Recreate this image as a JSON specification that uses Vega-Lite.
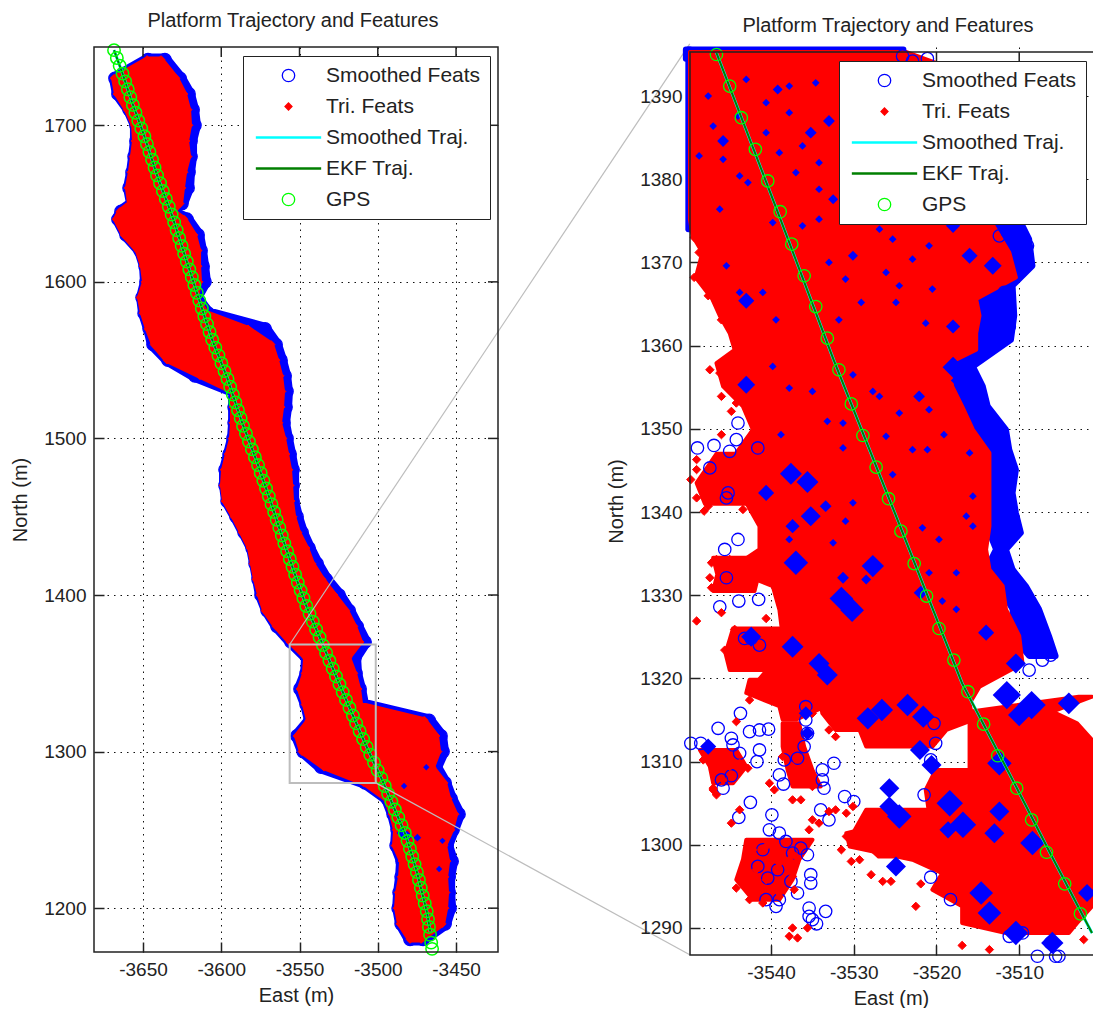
{"$schema":"https://vega.github.io/schema/vega-lite/v6.json","padding":{"left":10,"top":10,"right":0,"bottom":0},"background":"white","bounds":"flush","spacing":192,
"resolve":{"scale":{"shape":"independent","stroke":"independent","fill":"independent","size":"independent"},"legend":{"shape":"independent","stroke":"independent","fill":"independent"}},
"config":{"view":{"stroke":null},"font":"Liberation Sans","axis":{"labelFont":"Liberation Sans","titleFont":"Liberation Sans","labelFontSize":19,"titleFontSize":20,"titleFontWeight":"normal","labelColor":"#222","titleColor":"#222","domain":false,"tickColor":"#222","tickSize":-10,"tickWidth":1.5,"gridColor":"#111","gridDash":[1.5,5],"gridOpacity":1,"gridWidth":1,"labelPadding":18},"title":{"font":"Liberation Sans","fontSize":20,"fontWeight":"normal","color":"#222","anchor":"middle","dx":-3}},
"datasets":{
"edges":[{"y":1742,"rl":-3647.4,"rr":-3638.5,"bl":-3646.8,"br":-3636},{"y":1730,"rl":-3668.5,"rr":-3628.9,"bl":-3667.9,"br":-3626.3},{"y":1720,"rl":-3666.6,"rr":-3623.8,"bl":-3666,"br":-3620.6},{"y":1710,"rl":-3660.2,"rr":-3621.2,"bl":-3658.9,"br":-3618},{"y":1700,"rl":-3655.7,"rr":-3620.6,"bl":-3654.5,"br":-3616.8},{"y":1690,"rl":-3655.1,"rr":-3622.5,"bl":-3654.5,"br":-3619.3},{"y":1680,"rl":-3656.4,"rr":-3621.2,"bl":-3655.7,"br":-3619.3},{"y":1670,"rl":-3657.7,"rr":-3623.8,"bl":-3657,"br":-3620.6},{"y":1660,"rl":-3659.6,"rr":-3625.1,"bl":-3658.9,"br":-3621.2},{"y":1650,"rl":-3658.3,"rr":-3626.3,"bl":-3657,"br":-3625.1},{"y":1645,"rl":-3664.7,"rr":-3630.8,"bl":-3664,"br":-3632.1},{"y":1640,"rl":-3667.2,"rr":-3623.8,"bl":-3666,"br":-3621.9},{"y":1630,"rl":-3662.1,"rr":-3617.4,"bl":-3660.8,"br":-3614.8},{"y":1620,"rl":-3653.2,"rr":-3614.8,"bl":-3651.9,"br":-3612.9},{"y":1610,"rl":-3650,"rr":-3614.8,"bl":-3648.7,"br":-3611.6},{"y":1600,"rl":-3648.7,"rr":-3614.2,"bl":-3648.1,"br":-3610.4},{"y":1590,"rl":-3651.9,"rr":-3616.1,"bl":-3650.6,"br":-3616.1},{"y":1580,"rl":-3650,"rr":-3609.7,"bl":-3649.3,"br":-3608.4},{"y":1570,"rl":-3646.8,"rr":-3582.9,"bl":-3646.1,"br":-3572},{"y":1560,"rl":-3643,"rr":-3568.2,"bl":-3643.6,"br":-3565},{"y":1550,"rl":-3634.6,"rr":-3565,"bl":-3634,"br":-3561.8},{"y":1540,"rl":-3613.6,"rr":-3562.4,"bl":-3616.8,"br":-3559.2},{"y":1530,"rl":-3592.5,"rr":-3561.2,"bl":-3591.8,"br":-3558},{"y":1520,"rl":-3592.5,"rr":-3561.8,"bl":-3591.8,"br":-3558.6},{"y":1510,"rl":-3592.5,"rr":-3563.1,"bl":-3591.8,"br":-3559.9},{"y":1500,"rl":-3593.1,"rr":-3560.5,"bl":-3592.5,"br":-3558},{"y":1490,"rl":-3595.7,"rr":-3558.6,"bl":-3595,"br":-3556},{"y":1480,"rl":-3598.2,"rr":-3556.7,"bl":-3597.6,"br":-3554.1},{"y":1470,"rl":-3598.9,"rr":-3556,"bl":-3597.6,"br":-3554.1},{"y":1460,"rl":-3597.6,"rr":-3555.4,"bl":-3596.3,"br":-3554.1},{"y":1450,"rl":-3591.8,"rr":-3554.1,"bl":-3590.6,"br":-3551.6},{"y":1440,"rl":-3586.7,"rr":-3551,"bl":-3585.4,"br":-3548.4},{"y":1430,"rl":-3581.6,"rr":-3545.8,"bl":-3580.3,"br":-3543.9},{"y":1420,"rl":-3579.7,"rr":-3542,"bl":-3578.4,"br":-3538.8},{"y":1410,"rl":-3577.8,"rr":-3535.6,"bl":-3576.5,"br":-3533},{"y":1400,"rl":-3575.2,"rr":-3527.9,"bl":-3574.6,"br":-3524.7},{"y":1390,"rl":-3572,"rr":-3520.3,"bl":-3570.7,"br":-3518.3},{"y":1380,"rl":-3565,"rr":-3515.2,"bl":-3564.4,"br":-3513.2},{"y":1370,"rl":-3556,"rr":-3511.3,"bl":-3555.4,"br":-3508.1},{"y":1360,"rl":-3545.8,"rr":-3519,"bl":-3545.2,"br":-3514.5},{"y":1350,"rl":-3546.5,"rr":-3515.2,"bl":-3545.8,"br":-3513.9},{"y":1340,"rl":-3549.7,"rr":-3512.6,"bl":-3549.7,"br":-3511.3},{"y":1330,"rl":-3546.5,"rr":-3511.3,"bl":-3545.8,"br":-3509.4},{"y":1320,"rl":-3543.9,"rr":-3470.4,"bl":-3543.3,"br":-3467.2},{"y":1310,"rl":-3551.6,"rr":-3462.8,"bl":-3551.6,"br":-3459.6},{"y":1300,"rl":-3548.4,"rr":-3461.5,"bl":-3547.7,"br":-3458.3},{"y":1290,"rl":-3534.3,"rr":-3465.3,"bl":-3536.2,"br":-3462.8},{"y":1280,"rl":-3508.8,"rr":-3457.6,"bl":-3508.1,"br":-3457},{"y":1270,"rl":-3494.7,"rr":-3455.1,"bl":-3494.1,"br":-3453.2},{"y":1260,"rl":-3490.9,"rr":-3450.6,"bl":-3490.2,"br":-3448.1},{"y":1250,"rl":-3488.3,"rr":-3453.2,"bl":-3487.7,"br":-3451.9},{"y":1240,"rl":-3489,"rr":-3457.6,"bl":-3488.3,"br":-3455.7},{"y":1230,"rl":-3484.5,"rr":-3455.7,"bl":-3484.5,"br":-3452.5},{"y":1220,"rl":-3485.1,"rr":-3457,"bl":-3485.1,"br":-3454.4},{"y":1210,"rl":-3487,"rr":-3456.4,"bl":-3486.4,"br":-3454.4},{"y":1200,"rl":-3487.7,"rr":-3457,"bl":-3487,"br":-3453.8},{"y":1190,"rl":-3485.8,"rr":-3458.9,"bl":-3485.1,"br":-3457},{"y":1180,"rl":-3479.4,"rr":-3472.3,"bl":-3479.4,"br":-3471.1}],
"trackL":[{"x":-3668.5,"y":1748},{"x":-3663.4,"y":1734},{"x":-3657,"y":1714.7},{"x":-3649.3,"y":1693.6},{"x":-3641,"y":1668},{"x":-3631.5,"y":1642.5},{"x":-3622.5,"y":1614.4},{"x":-3614.2,"y":1588.8},{"x":-3605.9,"y":1563.2},{"x":-3596.3,"y":1539},{"x":-3586.7,"y":1510.2},{"x":-3577.1,"y":1484.7},{"x":-3568.2,"y":1459},{"x":-3559.9,"y":1433.5},{"x":-3552.2,"y":1411},{"x":-3545.8,"y":1393.3},{"x":-3533,"y":1363.2},{"x":-3520.3,"y":1333.2},{"x":-3507.5,"y":1303.8},{"x":-3497.3,"y":1282.1},{"x":-3488.3,"y":1261},{"x":-3482,"y":1246.3},{"x":-3474.9,"y":1222.7},{"x":-3468.5,"y":1197.1},{"x":-3466.5,"y":1185}],
"gpsL":[{"y":1748,"x":-3668.5},{"y":1743,"x":-3666.7},{"y":1738,"x":-3664.9},{"y":1733,"x":-3663.1},{"y":1728,"x":-3661.4},{"y":1723,"x":-3659.7},{"y":1718,"x":-3658.1},{"y":1713,"x":-3656.5},{"y":1708,"x":-3654.8},{"y":1703,"x":-3653},{"y":1698,"x":-3651.1},{"y":1693,"x":-3649.1},{"y":1688,"x":-3647.5},{"y":1683,"x":-3645.9},{"y":1678,"x":-3644.2},{"y":1673,"x":-3642.6},{"y":1668,"x":-3641},{"y":1663,"x":-3639.1},{"y":1658,"x":-3637.3},{"y":1653,"x":-3635.4},{"y":1648,"x":-3633.5},{"y":1643,"x":-3631.7},{"y":1638,"x":-3630.1},{"y":1633,"x":-3628.5},{"y":1628,"x":-3626.9},{"y":1623,"x":-3625.3},{"y":1618,"x":-3623.7},{"y":1613,"x":-3622},{"y":1608,"x":-3620.4},{"y":1603,"x":-3618.8},{"y":1598,"x":-3617.2},{"y":1593,"x":-3615.6},{"y":1588,"x":-3614},{"y":1583,"x":-3612.4},{"y":1578,"x":-3610.8},{"y":1573,"x":-3609.1},{"y":1568,"x":-3607.5},{"y":1563,"x":-3605.8},{"y":1558,"x":-3603.8},{"y":1553,"x":-3601.8},{"y":1548,"x":-3599.9},{"y":1543,"x":-3597.9},{"y":1538,"x":-3596},{"y":1533,"x":-3594.3},{"y":1528,"x":-3592.6},{"y":1523,"x":-3591},{"y":1518,"x":-3589.3},{"y":1513,"x":-3587.6},{"y":1508,"x":-3586.1},{"y":1503,"x":-3584.2},{"y":1498,"x":-3582.3},{"y":1493,"x":-3580.4},{"y":1488,"x":-3578.5},{"y":1483,"x":-3576.5},{"y":1478,"x":-3574.8},{"y":1473,"x":-3573.1},{"y":1468,"x":-3571.4},{"y":1463,"x":-3569.6},{"y":1458,"x":-3567.9},{"y":1453,"x":-3566.2},{"y":1448,"x":-3564.6},{"y":1443,"x":-3562.9},{"y":1438,"x":-3561.3},{"y":1433,"x":-3559.7},{"y":1428,"x":-3557.9},{"y":1423,"x":-3556.2},{"y":1418,"x":-3554.5},{"y":1413,"x":-3552.8},{"y":1408,"x":-3551.1},{"y":1403,"x":-3549.3},{"y":1398,"x":-3547.5},{"y":1393,"x":-3545.7},{"y":1388,"x":-3543.6},{"y":1383,"x":-3541.5},{"y":1378,"x":-3539.4},{"y":1373,"x":-3537.2},{"y":1368,"x":-3535.1},{"y":1363,"x":-3533},{"y":1358,"x":-3530.9},{"y":1353,"x":-3528.8},{"y":1348,"x":-3526.7},{"y":1343,"x":-3524.5},{"y":1338,"x":-3522.4},{"y":1333,"x":-3520.3},{"y":1328,"x":-3518.1},{"y":1323,"x":-3515.9},{"y":1318,"x":-3513.8},{"y":1313,"x":-3511.6},{"y":1308,"x":-3509.4},{"y":1303,"x":-3507.1},{"y":1298,"x":-3504.8},{"y":1293,"x":-3502.4},{"y":1288,"x":-3500.1},{"y":1283,"x":-3497.7},{"y":1278,"x":-3495.5},{"y":1273,"x":-3493.4},{"y":1268,"x":-3491.3},{"y":1263,"x":-3489.1},{"y":1258,"x":-3486.9},{"y":1253,"x":-3484.8},{"y":1248,"x":-3482.7},{"y":1243,"x":-3481},{"y":1238,"x":-3479.5},{"y":1233,"x":-3478},{"y":1228,"x":-3476.5},{"y":1223,"x":-3475},{"y":1218,"x":-3473.7},{"y":1213,"x":-3472.5},{"y":1208,"x":-3471.3},{"y":1203,"x":-3470},{"y":1198,"x":-3468.7},{"y":1193,"x":-3467.9},{"y":1188,"x":-3467.3},{"y":1183,"x":-3466.6},{"y":1178,"x":-3465.9},{"y":1174,"x":-3465.3}],
"specksL":[{"x":-3474.7,"y":1245,"n":3},{"x":-3458.7,"y":1243,"n":2},{"x":-3460.8,"y":1225,"n":2},{"x":-3483.2,"y":1278,"n":2},{"x":-3484.5,"y":1248,"n":6},{"x":-3481.3,"y":1246,"n":6},{"x":-3469,"y":1290,"n":2}],
"frameL":[{"a":-3681.3,"b":-3423.2,"c":1172,"d":1750}],
"zoomL":[{"a":-3556.3,"b":-3501.3,"c":1280,"d":1368.4}],
"linksL":[{"a":-3556.3,"c":1368.4,"b":-3300.7,"d":1752},{"a":-3501.3,"c":1280,"b":-3300.7,"d":1170.3}],
"ticksTL":[{"x":-3650},{"x":-3600},{"x":-3550},{"x":-3500},{"x":-3450}],
"ticksRL":[{"y":1200},{"y":1300},{"y":1400},{"y":1500},{"y":1600},{"y":1700}],
"redR":[{"p":"a","y":1395.3,"a":-3549.8,"b":-3523.7},{"p":"a","y":1393.6,"a":-3549.8,"b":-3519},{"p":"a","y":1375.2,"a":-3549.8,"b":-3513.6},{"p":"a","y":1373.2,"a":-3549.5,"b":-3512.4},{"p":"a","y":1371.2,"a":-3548.3,"b":-3511.2},{"p":"a","y":1368.2,"a":-3549.1,"b":-3510.4},{"p":"a","y":1365.6,"a":-3547.1,"b":-3515.2},{"p":"a","y":1363.6,"a":-3546.2,"b":-3514.8},{"p":"a","y":1361.5,"a":-3545,"b":-3515.2},{"p":"a","y":1359.5,"a":-3544.4,"b":-3515.2},{"p":"a","y":1357.9,"a":-3546.6,"b":-3518.5},{"p":"a","y":1355.1,"a":-3545.8,"b":-3518.1},{"p":"a","y":1352.7,"a":-3543.4,"b":-3516.9},{"p":"a","y":1349.9,"a":-3542.2,"b":-3515.6},{"p":"a","y":1347.1,"a":-3544.2,"b":-3513.6},{"p":"a","y":1343.9,"a":-3541.8,"b":-3513.6},{"p":"a","y":1341.1,"a":-3543,"b":-3513.6},{"p":"a","y":1338.3,"a":-3541.4,"b":-3513.6},{"p":"a","y":1335.5,"a":-3541.4,"b":-3514},{"p":"a","y":1333.1,"a":-3545,"b":-3513.6},{"p":"a","y":1331.1,"a":-3539.8,"b":-3512},{"p":"a","y":1328.3,"a":-3539,"b":-3511.6},{"p":"a","y":1325.1,"a":-3538.6,"b":-3510},{"p":"a","y":1321.8,"a":-3539.8,"b":-3509.6},{"p":"a","y":1319,"a":-3542.2,"b":-3514.8},{"p":"a","y":1317,"a":-3532.5,"b":-3516},{"p":"a","y":1315,"a":-3530.9,"b":-3515.6},{"p":"a","y":1313.8,"a":-3529.3,"b":-3518.8},{"p":"a","y":1311.8,"a":-3528.5,"b":-3520.5},{"p":"c","y":1309,"a":-3520.1,"b":-3510.8},{"p":"c","y":1306.6,"a":-3521.3,"b":-3510.4},{"p":"c","y":1303.8,"a":-3520.9,"b":-3509.2},{"p":"c","y":1301.4,"a":-3530.9,"b":-3507.2},{"p":"c","y":1299.8,"a":-3530.5,"b":-3501.2},{"p":"c","y":1298.2,"a":-3522.9,"b":-3501.2},{"p":"c","y":1296.6,"a":-3519.3,"b":-3501.2},{"p":"c","y":1294.6,"a":-3520.5,"b":-3501.2},{"p":"c","y":1292.6,"a":-3516.9,"b":-3501.2},{"p":"c","y":1290.6,"a":-3516.9,"b":-3503},{"p":"c","y":1289.4,"a":-3511.6,"b":-3504},{"p":"d","y":1317.8,"a":-3502.8,"b":-3501.2},{"p":"d","y":1316,"a":-3516,"b":-3506},{"p":"d","y":1314.6,"a":-3516,"b":-3503},{"p":"d","y":1312.6,"a":-3516,"b":-3501.2},{"p":"d","y":1309,"a":-3516,"b":-3501.2},{"p":"d","y":1300,"a":-3511,"b":-3501.2},{"p":"e","y":1304.2,"a":-3528.5,"b":-3520.5},{"p":"e","y":1301.4,"a":-3530.1,"b":-3520.5},{"p":"e","y":1298.6,"a":-3527,"b":-3520.5},{"p":"g","y":1319.85,"a":-3542.6,"b":-3531.7},{"p":"g","y":1318.25,"a":-3543,"b":-3532.5},{"p":"g","y":1316.65,"a":-3539,"b":-3533.4},{"p":"g","y":1315.05,"a":-3538.6,"b":-3537},{"p":"m","y":1318.25,"a":-3534.2,"b":-3530.1},{"p":"m","y":1315.8,"a":-3533.8,"b":-3528.5},{"p":"m","y":1313.8,"a":-3532.2,"b":-3528.5},{"p":"i","y":1300.6,"a":-3543,"b":-3535},{"p":"i","y":1298.2,"a":-3543.4,"b":-3536.6},{"p":"i","y":1295.8,"a":-3544.2,"b":-3537.4},{"p":"i","y":1293.4,"a":-3542.2,"b":-3539},{"p":"j","y":1311.4,"a":-3548.6,"b":-3544.2},{"p":"j","y":1309.4,"a":-3547.4,"b":-3543},{"p":"j","y":1307.4,"a":-3547,"b":-3544.6},{"p":"h","y":1314.6,"a":-3538.6,"b":-3536.6},{"p":"h","y":1311.8,"a":-3538.6,"b":-3536},{"p":"h","y":1309,"a":-3538,"b":-3535},{"p":"h","y":1307,"a":-3537.4,"b":-3534},{"p":"q","y":1347,"a":-3546.6,"b":-3544},{"p":"q","y":1343.5,"a":-3549,"b":-3542},{"p":"q","y":1341,"a":-3548,"b":-3543},{"p":"s","y":1334.5,"a":-3547,"b":-3541.5},{"p":"s","y":1332.5,"a":-3546.5,"b":-3541.5},{"p":"s","y":1330.5,"a":-3547,"b":-3542},{"p":"u","y":1326,"a":-3544.6,"b":-3539},{"p":"u","y":1323,"a":-3545.5,"b":-3539},{"p":"u","y":1321,"a":-3545,"b":-3539}],
"bandR":[{"p":"t","y":1395.6,"a":-3550.3,"b":-3524},{"p":"t","y":1394.5,"a":-3550.3,"b":-3524},{"p":"l","y":1395.6,"a":-3550,"b":-3549.8},{"p":"l","y":1374,"a":-3550,"b":-3549.8},{"p":"r","y":1375.2,"a":-3513.6,"b":-3510},{"p":"r","y":1372.8,"a":-3513.6,"b":-3508.8},{"p":"r","y":1369.6,"a":-3510.8,"b":-3508.4},{"p":"r","y":1367.2,"a":-3515.6,"b":-3510.8},{"p":"r","y":1363.6,"a":-3515.6,"b":-3510.6},{"p":"r","y":1360.7,"a":-3515.6,"b":-3511},{"p":"r","y":1357.5,"a":-3518.9,"b":-3515.6},{"p":"r","y":1355.1,"a":-3518.9,"b":-3514.4},{"p":"r","y":1352.7,"a":-3516.9,"b":-3513.8},{"p":"r","y":1349.9,"a":-3515.6,"b":-3511.6},{"p":"r","y":1347.5,"a":-3514.8,"b":-3511.2},{"p":"r","y":1345.1,"a":-3514,"b":-3510.4},{"p":"r","y":1342.3,"a":-3514,"b":-3510.8},{"p":"r","y":1339.9,"a":-3514.4,"b":-3510.4},{"p":"r","y":1337.5,"a":-3513.6,"b":-3509.8},{"p":"r","y":1335.5,"a":-3512.8,"b":-3511.6},{"p":"r","y":1333.1,"a":-3514,"b":-3510.8},{"p":"r","y":1331.1,"a":-3512.4,"b":-3509.2},{"p":"r","y":1328.3,"a":-3510.8,"b":-3507.6},{"p":"r","y":1325.1,"a":-3510.8,"b":-3506.4},{"p":"r","y":1322.7,"a":-3508.8,"b":-3505.6}],
"blueR":[{"x":-3549.7,"y":1312.2},{"x":-3548.5,"y":1312.2},{"x":-3546.4,"y":1314},{"x":-3543.7,"y":1315.8},{"x":-3544.8,"y":1312.8},{"x":-3542.6,"y":1313.6},{"x":-3541.4,"y":1313.8},{"x":-3540.3,"y":1313.9},{"x":-3544.6,"y":1312},{"x":-3543.8,"y":1311},{"x":-3541.7,"y":1310},{"x":-3541.4,"y":1311.4},{"x":-3538.4,"y":1310.2},{"x":-3536.8,"y":1310.4},{"x":-3539,"y":1308.4},{"x":-3538.5,"y":1307.3},{"x":-3546,"y":1307.8},{"x":-3544.8,"y":1308.3},{"x":-3545.8,"y":1306.8},{"x":-3542.5,"y":1305.1},{"x":-3543.9,"y":1303.3},{"x":-3539.9,"y":1303.6},{"x":-3540.2,"y":1301.8},{"x":-3539,"y":1301.4},{"x":-3538.2,"y":1300.4},{"x":-3536.4,"y":1299.6},{"x":-3535.6,"y":1298.8},{"x":-3535.2,"y":1296.4},{"x":-3535.2,"y":1295.4},{"x":-3536.8,"y":1294.2},{"x":-3539,"y":1293.4},{"x":-3539.4,"y":1292.6},{"x":-3540.6,"y":1293.4},{"x":-3540.4,"y":1296},{"x":-3539.2,"y":1297},{"x":-3537.6,"y":1295.6},{"x":-3541.6,"y":1297.4},{"x":-3541,"y":1299.4},{"x":-3537.4,"y":1299},{"x":-3535.8,"y":1316.6},{"x":-3535.8,"y":1315},{"x":-3535.6,"y":1313.4},{"x":-3536,"y":1311.8},{"x":-3533.8,"y":1307.8},{"x":-3533.6,"y":1306.8},{"x":-3533.8,"y":1309},{"x":-3532.4,"y":1309.8},{"x":-3531.1,"y":1305.8},{"x":-3530,"y":1305.2},{"x":-3534,"y":1304.2},{"x":-3533,"y":1303},{"x":-3533.4,"y":1292},{"x":-3535.4,"y":1292.4},{"x":-3535.4,"y":1291.4},{"x":-3534.5,"y":1290.5},{"x":-3535,"y":1291},{"x":-3520.7,"y":1296.1},{"x":-3518.3,"y":1293.4},{"x":-3521.5,"y":1306},{"x":-3520.3,"y":1314.6},{"x":-3520.1,"y":1312.2},{"x":-3520.7,"y":1310.2},{"x":-3506.2,"y":1288.2},{"x":-3505.6,"y":1286.6},{"x":-3507.8,"y":1286.6},{"x":-3505.2,"y":1286.6},{"x":-3510.4,"y":1289.6},{"x":-3511.2,"y":1289},{"x":-3509.6,"y":1289.4},{"x":-3548.9,"y":1347.7},{"x":-3546.9,"y":1348},{"x":-3544.2,"y":1348.7},{"x":-3545,"y":1347.3},{"x":-3547.4,"y":1345.3},{"x":-3545.2,"y":1342.3},{"x":-3545.4,"y":1341.7},{"x":-3546.2,"y":1328.6},{"x":-3543.9,"y":1329.3},{"x":-3541.5,"y":1329.5},{"x":-3545.4,"y":1332.1},{"x":-3545.6,"y":1335.5},{"x":-3544,"y":1336.7},{"x":-3542.4,"y":1324.8},{"x":-3541.4,"y":1324},{"x":-3543.2,"y":1324.8},{"x":-3506.2,"y":1322.8},{"x":-3507.2,"y":1322.2},{"x":-3508.8,"y":1321},{"x":-3541.6,"y":1347.7},{"x":-3544,"y":1350.7},{"x":-3509.2,"y":1369.6},{"x":-3509,"y":1372},{"x":-3510,"y":1373.6},{"x":-3510.4,"y":1374.8},{"x":-3511.4,"y":1364.3},{"x":-3511.8,"y":1366.4},{"x":-3511.2,"y":1362.3},{"x":-3513.4,"y":1359.7},{"x":-3521.1,"y":1394.5},{"x":-3511.4,"y":1373.6},{"x":-3512.4,"y":1373.2},{"x":-3512.2,"y":1361.5},{"x":-3522.9,"y":1394.2},{"x":-3524.1,"y":1394.8}],
"redPtsR":[{"x":-3547.4,"y":1357.1},{"x":-3546.2,"y":1356.7},{"x":-3546,"y":1353.9},{"x":-3544.8,"y":1352.1},{"x":-3544.2,"y":1353.1},{"x":-3546,"y":1349.3},{"x":-3549,"y":1346.3},{"x":-3549,"y":1345.1},{"x":-3549.7,"y":1343.9},{"x":-3548.3,"y":1343.5},{"x":-3546.6,"y":1343.5},{"x":-3543.2,"y":1343.1},{"x":-3549,"y":1341.7},{"x":-3547.6,"y":1340.7},{"x":-3548.1,"y":1340.1},{"x":-3542.8,"y":1341.5},{"x":-3543.4,"y":1340.3},{"x":-3547.2,"y":1333.9},{"x":-3547.4,"y":1332.1},{"x":-3547.2,"y":1330.9},{"x":-3546,"y":1327.9},{"x":-3549,"y":1326.9},{"x":-3544.4,"y":1325.9},{"x":-3544.6,"y":1324.6},{"x":-3545.6,"y":1323.4},{"x":-3544.8,"y":1322.4},{"x":-3544,"y":1323.8},{"x":-3540.6,"y":1327.2},{"x":-3546.2,"y":1333.5},{"x":-3545,"y":1334.3},{"x":-3543,"y":1333.5},{"x":-3541.8,"y":1334.3},{"x":-3546.6,"y":1334.3},{"x":-3549.3,"y":1368.2},{"x":-3548.7,"y":1371.2},{"x":-3549.3,"y":1373},{"x":-3548.3,"y":1371.9},{"x":-3547.6,"y":1366},{"x":-3546,"y":1363.1},{"x":-3543.6,"y":1360.9},{"x":-3542.6,"y":1317.4},{"x":-3537.4,"y":1305.4},{"x":-3536.4,"y":1305.4},{"x":-3537.4,"y":1290},{"x":-3537.8,"y":1289},{"x":-3536.8,"y":1288.8},{"x":-3535.6,"y":1290},{"x":-3535.4,"y":1301.8},{"x":-3535,"y":1303},{"x":-3534.2,"y":1302.6},{"x":-3531.5,"y":1299.4},{"x":-3530.3,"y":1298},{"x":-3529.3,"y":1298.2},{"x":-3527.9,"y":1296.4},{"x":-3526.5,"y":1295.6},{"x":-3525.5,"y":1295.6},{"x":-3521.9,"y":1295.3},{"x":-3522.5,"y":1292.6},{"x":-3516.9,"y":1287.9},{"x":-3502.2,"y":1288.6},{"x":-3513.6,"y":1287.4},{"x":-3540.2,"y":1307.4},{"x":-3539.6,"y":1306.6},{"x":-3544.8,"y":1302.6},{"x":-3543.8,"y":1304.2},{"x":-3544.2,"y":1314.8},{"x":-3542.8,"y":1309.2},{"x":-3547,"y":1306.6},{"x":-3546.6,"y":1306},{"x":-3543,"y":1298.2},{"x":-3542.2,"y":1299.4},{"x":-3543.4,"y":1296.6},{"x":-3541.8,"y":1297},{"x":-3540.6,"y":1299.8},{"x":-3539.4,"y":1299.4},{"x":-3537.8,"y":1298.2},{"x":-3537,"y":1298.6},{"x":-3539,"y":1297.8},{"x":-3543,"y":1295},{"x":-3544.2,"y":1294.8},{"x":-3541.8,"y":1294.2},{"x":-3541,"y":1293},{"x":-3542.6,"y":1293.4},{"x":-3537.2,"y":1294.6},{"x":-3539,"y":1294.2},{"x":-3540.6,"y":1295.8},{"x":-3537.4,"y":1296.2},{"x":-3548.2,"y":1310.2},{"x":-3547,"y":1309},{"x":-3545.8,"y":1310.6},{"x":-3545,"y":1309.4},{"x":-3543.8,"y":1309.8},{"x":-3547,"y":1306.8},{"x":-3545.8,"y":1307.8},{"x":-3537.4,"y":1314.2},{"x":-3538.2,"y":1313.4},{"x":-3537.8,"y":1311.8},{"x":-3538.6,"y":1310.6},{"x":-3537.4,"y":1309.4},{"x":-3536.6,"y":1308.2},{"x":-3535,"y":1307},{"x":-3535.8,"y":1307.4},{"x":-3538.2,"y":1318.2},{"x":-3537,"y":1318.6},{"x":-3533.8,"y":1318.2},{"x":-3533,"y":1317.4},{"x":-3541.8,"y":1319},{"x":-3542.6,"y":1318.6},{"x":-3533,"y":1313.8},{"x":-3532.2,"y":1313},{"x":-3535,"y":1315.8},{"x":-3532.2,"y":1304.2},{"x":-3533,"y":1304},{"x":-3530.9,"y":1303.8},{"x":-3530.1,"y":1304.6},{"x":-3530.9,"y":1301},{"x":-3530.1,"y":1300.6}],
"clustersR":[{"x":-3511.5,"y":1318,"n":40},{"x":-3508.5,"y":1316.8,"n":40},{"x":-3510,"y":1315.6,"n":25},{"x":-3528.3,"y":1315.2,"n":25},{"x":-3526.6,"y":1316.2,"n":25},{"x":-3523.5,"y":1316.8,"n":25},{"x":-3521.6,"y":1315.4,"n":25},{"x":-3525.7,"y":1306.8,"n":20},{"x":-3525.7,"y":1304.6,"n":20},{"x":-3518.4,"y":1305,"n":35},{"x":-3516.8,"y":1302.4,"n":35},{"x":-3518.6,"y":1301.8,"n":15},{"x":-3512.4,"y":1304,"n":20},{"x":-3513,"y":1301.4,"n":20},{"x":-3524.5,"y":1303.4,"n":30},{"x":-3514.6,"y":1294.2,"n":28},{"x":-3513.6,"y":1291.8,"n":28},{"x":-3510.4,"y":1289.4,"n":30},{"x":-3508.4,"y":1300.2,"n":30},{"x":-3506,"y":1288.2,"n":25},{"x":-3535.8,"y":1315.8,"n":10},{"x":-3535.6,"y":1313.4,"n":10},{"x":-3522,"y":1311.4,"n":20},{"x":-3520.6,"y":1309.6,"n":20},{"x":-3512.4,"y":1309.8,"n":30},{"x":-3524.9,"y":1297.4,"n":20},{"x":-3501.8,"y":1294.2,"n":16},{"x":-3504,"y":1317,"n":24},{"x":-3547.6,"y":1311.8,"n":13},{"x":-3531.5,"y":1329.6,"n":28},{"x":-3530.2,"y":1328.2,"n":28},{"x":-3534.2,"y":1321.8,"n":22},{"x":-3533.2,"y":1320.4,"n":22},{"x":-3542.4,"y":1325,"n":20},{"x":-3537.6,"y":1344.6,"n":24},{"x":-3535.6,"y":1343.6,"n":24},{"x":-3527.7,"y":1333.5,"n":25},{"x":-3537,"y":1333.9,"n":30},{"x":-3518,"y":1357.4,"n":22},{"x":-3517,"y":1355.8,"n":22},{"x":-3535.2,"y":1339.5,"n":20},{"x":-3537.4,"y":1338.3,"n":10},{"x":-3533.4,"y":1340.7,"n":7},{"x":-3537.4,"y":1323.8,"n":24},{"x":-3522.1,"y":1353.9,"n":7},{"x":-3543,"y":1355.3,"n":16},{"x":-3521.9,"y":1330.3,"n":10},{"x":-3514,"y":1325.5,"n":13},{"x":-3510.4,"y":1321.8,"n":20},{"x":-3531.3,"y":1332.1,"n":7},{"x":-3540.6,"y":1342.3,"n":13},{"x":-3528.5,"y":1331.9,"n":5},{"x":-3543,"y":1365.4,"n":13},{"x":-3545.8,"y":1384.6,"n":7},{"x":-3535.2,"y":1385.6,"n":7},{"x":-3533,"y":1387,"n":7},{"x":-3518,"y":1374.4,"n":10},{"x":-3516,"y":1370.8,"n":13},{"x":-3513.2,"y":1369.6,"n":16},{"x":-3518,"y":1362.3,"n":10},{"x":-3539.2,"y":1390.8,"n":5},{"x":-3542.8,"y":1379.6,"n":3},{"x":-3530.1,"y":1370.8,"n":5},{"x":-3522.9,"y":1370.4,"n":3},{"x":-3529.1,"y":1365.2,"n":3},{"x":-3539,"y":1383.2,"n":3},{"x":-3534.2,"y":1378.8,"n":3},{"x":-3532.5,"y":1377.6,"n":5},{"x":-3547.6,"y":1390,"n":3},{"x":-3543,"y":1392,"n":3},{"x":-3540.6,"y":1389.2,"n":3},{"x":-3537.8,"y":1391.2,"n":3},{"x":-3534.6,"y":1391.6,"n":3},{"x":-3547,"y":1386.4,"n":3},{"x":-3544,"y":1387.6,"n":3},{"x":-3540.6,"y":1385.6,"n":3},{"x":-3537.8,"y":1388,"n":3},{"x":-3536.2,"y":1384,"n":3},{"x":-3548.7,"y":1382.8,"n":3},{"x":-3545.8,"y":1382.4,"n":3},{"x":-3543.8,"y":1380.4,"n":3},{"x":-3537,"y":1380.8,"n":3},{"x":-3534.2,"y":1382,"n":3},{"x":-3546.2,"y":1376.4,"n":3},{"x":-3539.8,"y":1374.8,"n":3},{"x":-3536.2,"y":1374.4,"n":3},{"x":-3534.2,"y":1375.2,"n":3},{"x":-3526.9,"y":1374,"n":3},{"x":-3525.3,"y":1372.8,"n":3},{"x":-3520.9,"y":1372,"n":3},{"x":-3526.1,"y":1368.8,"n":3},{"x":-3524.5,"y":1367.2,"n":3},{"x":-3531.8,"y":1363.1,"n":3},{"x":-3539.4,"y":1363.1,"n":3},{"x":-3541,"y":1366.4,"n":3},{"x":-3543.8,"y":1366.4,"n":3},{"x":-3545.4,"y":1369.6,"n":3},{"x":-3524.9,"y":1365.2,"n":3},{"x":-3521.3,"y":1362.7,"n":3},{"x":-3520.5,"y":1366.8,"n":3},{"x":-3533,"y":1370,"n":3},{"x":-3531,"y":1368,"n":3},{"x":-3539.8,"y":1357.5,"n":3},{"x":-3530.1,"y":1356.5,"n":3},{"x":-3537.8,"y":1354.9,"n":3},{"x":-3535,"y":1354.5,"n":3},{"x":-3527.7,"y":1354.5,"n":3},{"x":-3526.9,"y":1353.9,"n":3},{"x":-3524.5,"y":1351.9,"n":3},{"x":-3520.9,"y":1352.3,"n":3},{"x":-3533.2,"y":1350.9,"n":3},{"x":-3531.3,"y":1350.7,"n":3},{"x":-3538.8,"y":1349.3,"n":3},{"x":-3531.3,"y":1347.7,"n":3},{"x":-3526.1,"y":1349.1,"n":3},{"x":-3522.9,"y":1347.5,"n":3},{"x":-3521.1,"y":1347.5,"n":3},{"x":-3519.1,"y":1349.3,"n":3},{"x":-3525.3,"y":1344.5,"n":3},{"x":-3531,"y":1338.9,"n":3},{"x":-3530.1,"y":1341.1,"n":3},{"x":-3516.4,"y":1339.5,"n":3},{"x":-3515.6,"y":1338.3,"n":3},{"x":-3519.7,"y":1336.7,"n":3},{"x":-3521.7,"y":1338.1,"n":3},{"x":-3517.6,"y":1332.7,"n":3},{"x":-3519.3,"y":1329.3,"n":3},{"x":-3517.6,"y":1328.3,"n":3},{"x":-3520.9,"y":1332.7,"n":3},{"x":-3532.5,"y":1336.3,"n":3},{"x":-3537.8,"y":1336.7,"n":3},{"x":-3516,"y":1347.1,"n":3},{"x":-3515.6,"y":1341.9,"n":3}],
"trackR":[{"x":-3546.6,"y":1395.2},{"x":-3539.4,"y":1376.6},{"x":-3532.4,"y":1358.2},{"x":-3524.6,"y":1338.8},{"x":-3516.9,"y":1319.4},{"x":-3510.8,"y":1307.8},{"x":-3506,"y":1298.5},{"x":-3501.2,"y":1289.4}],
"gpsR":[{"x":-3546.6,"y":1395},{"x":-3545,"y":1391.2},{"x":-3543.6,"y":1387.4},{"x":-3541.9,"y":1383.6},{"x":-3540.4,"y":1379.8},{"x":-3538.9,"y":1376.1},{"x":-3537.5,"y":1372.2},{"x":-3536,"y":1368.4},{"x":-3534.6,"y":1364.7},{"x":-3533.2,"y":1360.9},{"x":-3531.8,"y":1357.1},{"x":-3530.3,"y":1353},{"x":-3528.9,"y":1349.2},{"x":-3527.3,"y":1345.4},{"x":-3525.8,"y":1341.6},{"x":-3524.3,"y":1337.7},{"x":-3522.7,"y":1333.8},{"x":-3521.2,"y":1329.9},{"x":-3519.7,"y":1326},{"x":-3517.9,"y":1322.2},{"x":-3516.2,"y":1318.4},{"x":-3514.3,"y":1314.5},{"x":-3512.6,"y":1310.7},{"x":-3510.3,"y":1306.8},{"x":-3508.5,"y":1303},{"x":-3506.7,"y":1299.1},{"x":-3504.5,"y":1295.3},{"x":-3502.6,"y":1291.7}],
"frameR":[{"a":-3549.8,"b":-3499,"c":1286.75,"d":1395.3}],
"ticksTR":[{"x":-3520},{"x":-3510}]
},
"hconcat":[
{"width":404,"height":905,"title":{"text":"Platform Trajectory and Features","offset":10},
"layer":[
{"data":{"name":"edges"},"mark":{"type":"area","orient":"horizontal","fill":"#0000ff","stroke":"#0000ff","strokeWidth":12,"strokeJoin":"round"},"encoding":{"y":{"field":"y","type":"quantitative","title":"North (m)","scale":{"domain":[1172,1750],"nice":false,"zero":false},"axis":{"values":[1200,1300,1400,1500,1600,1700],"format":"d","grid":true,"titlePadding":13}},"x":{"field":"bl","type":"quantitative","title":"East (m)","scale":{"domain":[-3681.3,-3423.2],"nice":false,"zero":false},"axis":{"values":[-3650,-3600,-3550,-3500,-3450],"labelExpr":"'-' + abs(datum.value)","grid":true,"titlePadding":6}},"x2":{"field":"br"}}},
{"data":{"name":"edges"},"transform":[{"fold":["bl","br"],"as":["k","v"]}],"mark":{"type":"point","shape":"circle","size":154,"stroke":"#0000ff","strokeWidth":1.3,"fill":"transparent","opacity":1},"encoding":{"x":{"field":"v","type":"quantitative"},"y":{"field":"y","type":"quantitative"}}},
{"data":{"name":"edges"},"mark":{"type":"area","orient":"horizontal","fill":"#ff0000","stroke":"#ff0000","strokeWidth":6,"strokeJoin":"round"},"encoding":{"y":{"field":"y","type":"quantitative"},"x":{"field":"rl","type":"quantitative"},"x2":{"field":"rr"}}},
{"data":{"name":"edges"},"transform":[{"fold":["rl","rr"],"as":["k","v"]}],"mark":{"type":"point","shape":"diamond","size":60,"stroke":"#ff0000","strokeWidth":1,"fill":"#ff0000","opacity":1},"encoding":{"x":{"field":"v","type":"quantitative"},"y":{"field":"y","type":"quantitative"}}},
{"data":{"name":"specksL"},"mark":{"type":"point","shape":"diamond","filled":true,"fill":"#0000ff","stroke":null,"opacity":1},"encoding":{"x":{"field":"x","type":"quantitative"},"y":{"field":"y","type":"quantitative"},"size":{"field":"n","type":"quantitative","legend":null,"scale":{"domain":[0,100],"range":[0,2000]}}}},
{"data":{"name":"trackL"},"mark":{"type":"line","stroke":"#00ffff","strokeWidth":3},"encoding":{"x":{"field":"x","type":"quantitative"},"y":{"field":"y","type":"quantitative"}}},
{"data":{"name":"trackL"},"mark":{"type":"line","stroke":"#007f00","strokeWidth":2},"encoding":{"x":{"field":"x","type":"quantitative"},"y":{"field":"y","type":"quantitative"}}},
{"data":{"name":"gpsL"},"mark":{"type":"point","size":154,"strokeWidth":1.5,"opacity":1},"encoding":{"x":{"field":"x","type":"quantitative"},"y":{"field":"y","type":"quantitative"},
"shape":{"datum":"GPS","scale":{"domain":["Smoothed Feats","Tri. Feats","Smoothed Traj.","EKF Traj.","GPS"],"range":["circle","M0,-0.56L0.56,0L0,0.56L-0.56,0Z","M-5.16,-0.08H5.16V0.08H-5.16Z","M-5.16,-0.08H5.16V0.08H-5.16Z","circle"]},"legend":{"orient":"none","legendX":149,"legendY":9,"title":null,"fillColor":"white","strokeColor":"#222","padding":9,"symbolSize":154,"symbolStrokeWidth":1.3,"symbolOpacity":1,"symbolOffset":26,"labelOffset":27,"labelFont":"Liberation Sans","labelFontSize":21,"labelColor":"#222","rowPadding":9,"labelLimit":300}},
"stroke":{"datum":"GPS","scale":{"domain":["Smoothed Feats","Tri. Feats","Smoothed Traj.","EKF Traj.","GPS"],"range":["#0000ff","#ff0000","#00ffff","#007f00","#00ff00"]}},
"fill":{"datum":"GPS","scale":{"domain":["Smoothed Feats","Tri. Feats","Smoothed Traj.","EKF Traj.","GPS"],"range":["transparent","#ff0000","#00ffff","#007f00","transparent"]}}}},
{"data":{"name":"zoomL"},"mark":{"type":"rect","fill":null,"stroke":"#bdbdbd","strokeWidth":2},"encoding":{"x":{"field":"a","type":"quantitative"},"x2":{"field":"b"},"y":{"field":"c","type":"quantitative"},"y2":{"field":"d"}}},
{"data":{"name":"linksL"},"mark":{"type":"rule","stroke":"#bdbdbd","strokeWidth":1.2},"encoding":{"x":{"field":"a","type":"quantitative"},"x2":{"field":"b"},"y":{"field":"c","type":"quantitative"},"y2":{"field":"d"}}},
{"data":{"name":"ticksTL"},"mark":{"type":"rule","stroke":"#222","strokeWidth":1.5},"encoding":{"x":{"field":"x","type":"quantitative"},"y":{"datum":1750,"type":"quantitative"},"y2":{"datum":1743.6}}},
{"data":{"name":"ticksRL"},"mark":{"type":"rule","stroke":"#222","strokeWidth":1.5},"encoding":{"y":{"field":"y","type":"quantitative"},"x":{"datum":-3423.2,"type":"quantitative"},"x2":{"datum":-3429.6}}},
{"data":{"name":"frameL"},"mark":{"type":"rect","fill":null,"stroke":"#222","strokeWidth":1.5},"encoding":{"x":{"field":"a","type":"quantitative"},"x2":{"field":"b"},"y":{"field":"c","type":"quantitative"},"y2":{"field":"d"}}}
]},
{"width":402,"height":908,"title":{"text":"Platform Trajectory and Features","offset":10},
"layer":[
{"data":{"name":"bandR"},"mark":{"type":"area","orient":"horizontal","fill":"#0000ff","stroke":"#0000ff","strokeWidth":6,"strokeJoin":"round"},"encoding":{"detail":{"field":"p"},"y":{"field":"y","type":"quantitative","title":"North (m)","scale":{"domain":[1286.75,1395.9],"nice":false,"zero":false},"axis":{"values":[1290,1300,1310,1320,1330,1340,1350,1360,1370,1380,1390],"format":"d","grid":true,"titlePadding":13}},"x":{"field":"a","type":"quantitative","title":"East (m)","scale":{"domain":[-3549.8,-3501.2],"nice":false,"zero":false},"axis":{"values":[-3540,-3530,-3520,-3510],"labelExpr":"'-' + abs(datum.value)","grid":true,"titlePadding":6}},"x2":{"field":"b"}}},
{"data":{"name":"redR"},"mark":{"type":"area","orient":"horizontal","fill":"#ff0000","stroke":"#ff0000","strokeWidth":4,"strokeJoin":"round"},"encoding":{"detail":{"field":"p"},"y":{"field":"y","type":"quantitative"},"x":{"field":"a","type":"quantitative"},"x2":{"field":"b"}}},
{"data":{"name":"blueR"},"mark":{"type":"point","shape":"circle","size":154,"stroke":"#0000ff","strokeWidth":1.3,"fill":"transparent","opacity":1},"encoding":{"x":{"field":"x","type":"quantitative"},"y":{"field":"y","type":"quantitative"}}},
{"data":{"name":"redPtsR"},"mark":{"type":"point","shape":"diamond","size":70,"stroke":"#ff0000","strokeWidth":1,"fill":"#ff0000","opacity":1},"encoding":{"x":{"field":"x","type":"quantitative"},"y":{"field":"y","type":"quantitative"}}},
{"data":{"name":"clustersR"},"mark":{"type":"point","shape":"diamond","filled":true,"fill":"#0000ff","stroke":null,"opacity":1},"encoding":{"x":{"field":"x","type":"quantitative"},"y":{"field":"y","type":"quantitative"},"size":{"field":"n","type":"quantitative","legend":null,"scale":{"domain":[0,100],"range":[0,2000]}}}},
{"data":{"name":"trackR"},"mark":{"type":"line","stroke":"#00ffff","strokeWidth":3},"encoding":{"x":{"field":"x","type":"quantitative"},"y":{"field":"y","type":"quantitative"}}},
{"data":{"name":"trackR"},"mark":{"type":"line","stroke":"#007f00","strokeWidth":2},"encoding":{"x":{"field":"x","type":"quantitative"},"y":{"field":"y","type":"quantitative"}}},
{"data":{"name":"gpsR"},"mark":{"type":"point","size":154,"strokeWidth":1.3,"opacity":1},"encoding":{"x":{"field":"x","type":"quantitative"},"y":{"field":"y","type":"quantitative"},
"shape":{"datum":"GPS","scale":{"domain":["Smoothed Feats","Tri. Feats","Smoothed Traj.","EKF Traj.","GPS"],"range":["circle","M0,-0.56L0.56,0L0,0.56L-0.56,0Z","M-5.16,-0.08H5.16V0.08H-5.16Z","M-5.16,-0.08H5.16V0.08H-5.16Z","circle"]},"legend":{"orient":"none","legendX":149,"legendY":14,"title":null,"fillColor":"white","strokeColor":"#222","padding":9,"symbolSize":154,"symbolStrokeWidth":1.3,"symbolOpacity":1,"symbolOffset":26,"labelOffset":27,"labelFont":"Liberation Sans","labelFontSize":21,"labelColor":"#222","rowPadding":9,"labelLimit":300}},
"stroke":{"datum":"GPS","scale":{"domain":["Smoothed Feats","Tri. Feats","Smoothed Traj.","EKF Traj.","GPS"],"range":["#0000ff","#ff0000","#00ffff","#007f00","#00ff00"]}},
"fill":{"datum":"GPS","scale":{"domain":["Smoothed Feats","Tri. Feats","Smoothed Traj.","EKF Traj.","GPS"],"range":["transparent","#ff0000","#00ffff","#007f00","transparent"]}}}},
{"data":{"name":"ticksTR"},"mark":{"type":"rule","stroke":"#222","strokeWidth":1.5},"encoding":{"x":{"field":"x","type":"quantitative"},"y":{"datum":1395.3,"type":"quantitative"},"y2":{"datum":1394.1}}},
{"data":{"name":"frameR"},"mark":{"type":"rect","fill":null,"stroke":"#222","strokeWidth":1.5},"encoding":{"x":{"field":"a","type":"quantitative"},"x2":{"field":"b"},"y":{"field":"c","type":"quantitative"},"y2":{"field":"d"}}}
]}
]}
